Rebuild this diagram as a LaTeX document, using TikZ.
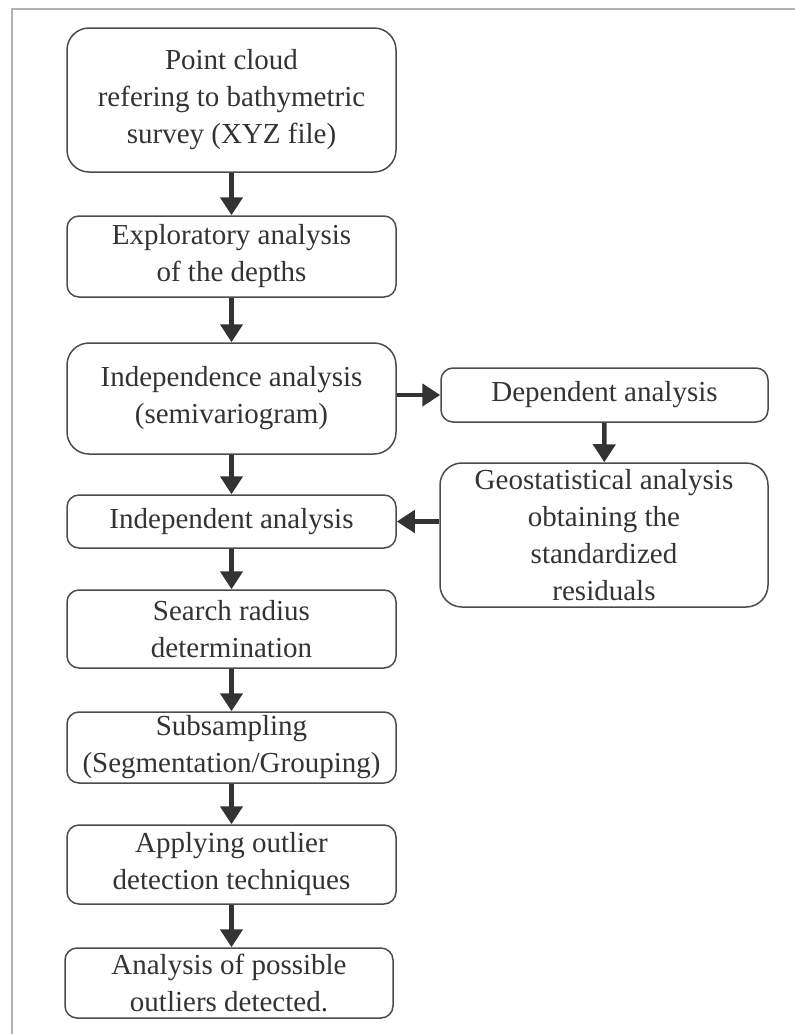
\documentclass[tikz,border=0pt]{standalone}
\usepackage{fontspec}
\setmainfont{Liberation Serif}
\usetikzlibrary{arrows.meta}

\tikzset{
  box/.style={draw=black!70, line width=1.5pt, fill=white, text=black!80, rounded corners=12pt,
    align=center, inner sep=0pt, minimum width=329pt, font=\fontsize{29}{37}\selectfont},
  bigbox/.style={box, rounded corners=22pt},
  flow/.style={draw=black!80, line width=4.5pt, -{Triangle[length=18pt,width=22pt]}}
}

\begin{document}
\begin{tikzpicture}[x=1pt,y=-1pt]
    \useasboundingbox (0,0) rectangle (795,1034);
    \draw[black!30, line width=1.5pt] (12,1034) -- (12,9) -- (795,9);
    \node[bigbox, minimum height=144pt] (cloud) at (231.5,100) {Point cloud\\refering to bathymetric\\survey (XYZ file)};
    \node[box, minimum height=81pt] (explo) at (231.5,256.5) {Exploratory analysis\\of the depths};
    \node[bigbox, minimum height=111pt] (indep) at (231.5,398.5) {Independence analysis\\(semivariogram)};
    \node[box, minimum height=54pt, minimum width=327pt] (dep) at (604.5,395) {Dependent analysis};
    \node[bigbox, minimum height=144pt, minimum width=328pt] (geo) at (604,535) {Geostatistical analysis\\obtaining the\\standardized\\residuals};
    \node[box, minimum height=53pt] (indan) at (231.5,521.5) {Independent analysis};
    \node[box, minimum height=78pt] (radius) at (231.5,629) {Search radius\\determination};
    \node[box, minimum height=71pt] (subs) at (231.5,747.5) {Subsampling\\(Segmentation/Grouping)};
    \node[box, minimum height=79pt] (apply) at (231.5,864.5) {Applying outlier\\detection techniques};
    \node[box, minimum height=70pt, minimum width=328pt] (final) at (229,983) {Analysis of possible\\outliers detected.};
    \draw[flow] (cloud) -- (explo);
    \draw[flow] (explo) -- (indep);
    \draw[flow] (indep.east |- dep.west) -- (dep.west);
    \draw[flow] (dep) -- (geo);
    \draw[flow] (geo.west |- indan.east) -- (indan.east);
    \draw[flow] (indep) -- (indan);
    \draw[flow] (indan) -- (radius);
    \draw[flow] (radius) -- (subs);
    \draw[flow] (subs) -- (apply);
    \draw[flow] (apply.south) -- (apply.south |- final.north);
\end{tikzpicture}
\end{document}
